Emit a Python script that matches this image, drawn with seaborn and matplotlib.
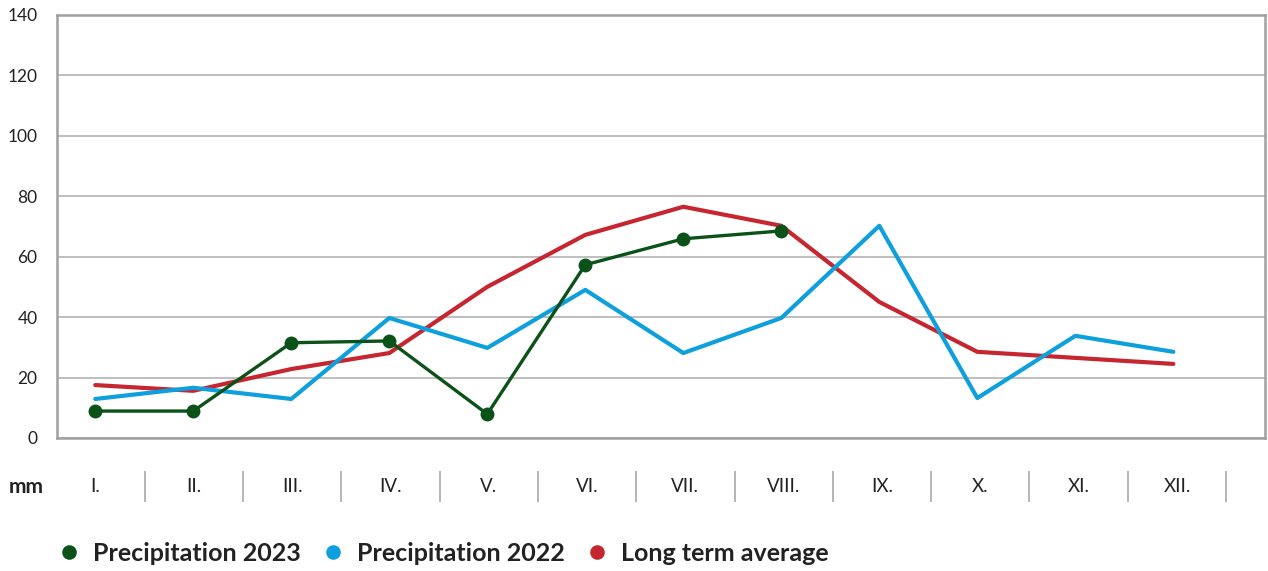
import pandas as pd
import matplotlib.pyplot as plt
import seaborn as sns
from matplotlib.lines import Line2D

# Data (mm)
months = ['I.', 'II.', 'III.', 'IV.', 'V.', 'VI.', 'VII.', 'VIII.', 'IX.', 'X.', 'XI.', 'XII.']
prec_2023 = [8.9, 8.9, 31.5, 32.1, 7.9, 57.3, 65.9, 68.5]
prec_2022 = [12.9, 16.6, 12.9, 39.7, 29.8, 49.0, 28.1, 39.7, 70.2, 13.2, 33.8, 28.5]
long_avg = [17.5, 15.6, 22.8, 28.1, 50.0, 67.2, 76.5, 70.2, 45.0, 28.5, 26.5, 24.5]
y_ticks = [0, 20, 40, 60, 80, 100, 120, 140]

c_green = '#0b5219'
c_blue = '#0ea0dc'
c_red = '#c62630'
c_grid = '#b3b3b3'
c_text = '#222222'

sns.set_style('white')
plt.rcParams['font.family'] = ['Lato', 'DejaVu Sans']

df23 = pd.DataFrame({'x': range(len(prec_2023)), 'mm': prec_2023})
df22 = pd.DataFrame({'x': range(len(prec_2022)), 'mm': prec_2022})
dfavg = pd.DataFrame({'x': range(len(long_avg)), 'mm': long_avg})

fig = plt.figure(figsize=(12.68, 5.71), dpi=100)
ax = fig.add_axes([0.045, 0.233, 0.953, 0.741])

sns.lineplot(data=dfavg, x='x', y='mm', color=c_red, linewidth=3, ax=ax, zorder=3)
sns.lineplot(data=df22, x='x', y='mm', color=c_blue, linewidth=3, ax=ax, zorder=4)
sns.lineplot(data=df23, x='x', y='mm', color=c_green, linewidth=2.4, marker='o',
             markersize=10, markeredgewidth=0, ax=ax, zorder=5)

ax.set_xlim(-0.39, 11.94)
ax.set_ylim(0, 140)
ax.set_yticks(y_ticks)
ax.set_yticklabels([str(v) for v in y_ticks], fontsize=12.5, color=c_text)
ax.set_xticks([])
ax.set_xlabel('')
ax.set_ylabel('')
ax.tick_params(axis='y', length=0, pad=14)
ax.grid(axis='y', color=c_grid, linewidth=1.2)
for s in ax.spines.values():
    s.set_visible(True)
    s.set_color('#a0a0a0')
    s.set_linewidth(1.8)

# month label row
lab = fig.add_axes([0.045, 0.121, 0.953, 0.054])
lab.set_xlim(-0.39, 11.90)
lab.set_ylim(0, 1)
lab.axis('off')
for i, m in enumerate(months):
    lab.text(i, 0.5, m, ha='center', va='center', fontsize=13.5, color=c_text)
    lab.vlines(i + 0.5, 0, 1, color='#b0b0b0', linewidth=1.3)
fig.text(0.021, 0.147, 'mm', ha='center', va='center', fontsize=15,
         fontweight='bold', color=c_text)

# legend
handles = [Line2D([], [], linestyle='none', marker='o', markersize=10.5, color=c, markeredgewidth=0)
           for c in (c_green, c_blue, c_red)]
fig.legend(handles, ['Precipitation 2023', 'Precipitation 2022', 'Long term average'],
           loc='center left', bbox_to_anchor=(0.029, 0.031), ncol=3, frameon=False,
           prop={'size': 18, 'weight': 'bold'}, handletextpad=0.55, columnspacing=0.9,
           handlelength=0.8, labelcolor=c_text)

fig.savefig('out.png', dpi=100)
